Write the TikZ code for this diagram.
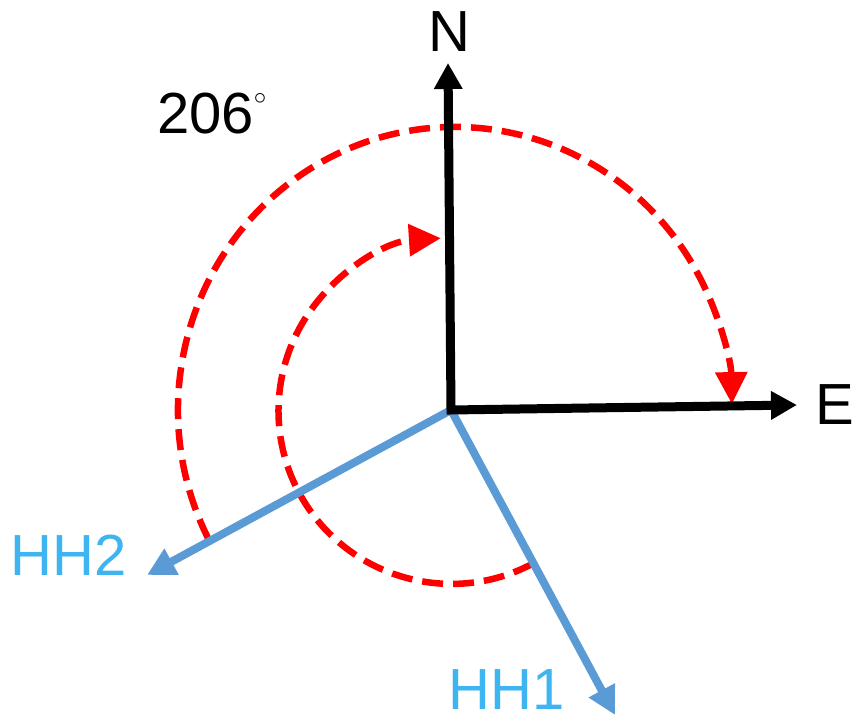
\documentclass[tikz,border=0pt]{standalone}
\usepackage{fontspec}
\setmainfont{Liberation Sans}
\usepackage{tikz}
\usetikzlibrary{arrows.meta, positioning, calc}
\usepackage{xcolor}
\definecolor{hhblue}{RGB}{91,155,213}
\definecolor{hhtext}{RGB}{62,180,240}

\begin{document}
\begin{tikzpicture}[
    x=1pt, y=1pt,
    axis/.style={line width=9pt, black, miter limit=10,
                 {Triangle[length=26pt, width=27pt]}-{Triangle[length=26pt, width=27pt]}},
    hh/.style={line width=8pt, hhblue, -{Triangle[length=28pt, width=28pt]}},
    turn/.style={line width=6.5pt, red, dash pattern=on 21pt off 10pt,
                 -{Triangle[length=32pt, width=31pt]}},
    lbl/.style={font=\fontsize{58}{60}\selectfont, inner sep=0pt},
]
    \useasboundingbox (0,0) rectangle (853,719);

    \coordinate (O) at (451,309);
    \coordinate (C) at (455,309);
    \coordinate (Ntip) at (448,656);
    \coordinate (Etip) at (797,314);
    \coordinate (HH2tip) at (147,144);
    \coordinate (HH1tip) at (615,4);

    % rotation arcs
    \coordinate (outerstart) at ($(C)+(207:277 and 283)$);
    \coordinate (innerstart) at ($(O)+(-62:174)$);
    \draw[turn] (outerstart) arc[start angle=207, end angle=1.2, x radius=277, y radius=283];
    \draw[turn] (innerstart) arc[start angle=-62, end angle=-266.5, radius=173];

    \draw[hh] (O) -- (HH2tip);
    \draw[hh] (O) -- (HH1tip);
    \draw[axis] (Ntip) -- (O) -- (Etip);

    \node[lbl] (N) at (449,687) {N};
    \node[lbl] (E) at (835,314) {E};
    \node[lbl, text=hhtext] (HH2) at (69,164) {HH2};
    \node[lbl, text=hhtext] (HH1) at (507,29) {HH1};
    \node[lbl, anchor=west] (angle) at (157,605)
        {206\raisebox{0.5em}{\fontsize{26}{26}\selectfont$\circ$}};
\end{tikzpicture}
\end{document}
